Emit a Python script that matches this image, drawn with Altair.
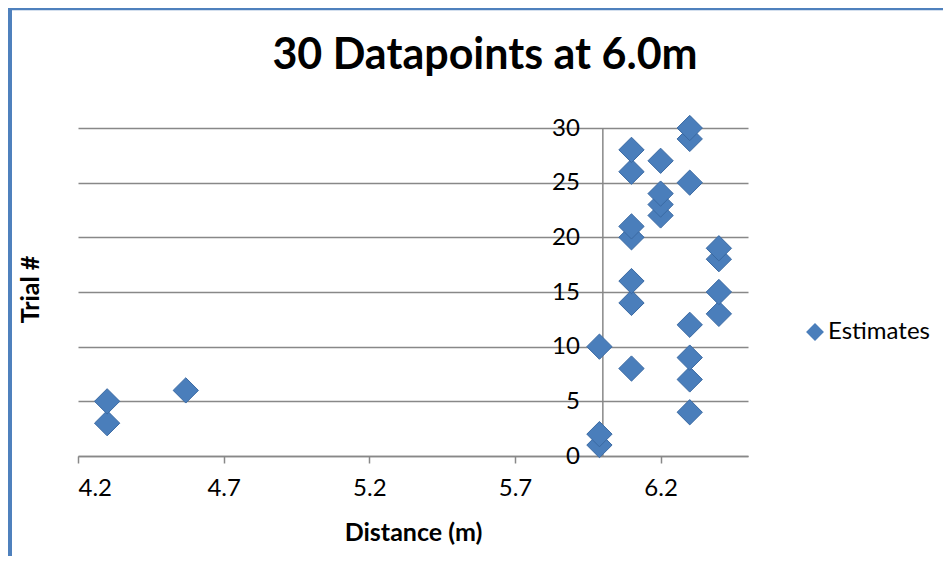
import altair as alt
import pandas as pd

# ---- data ----
trials = [1, 2, 3, 4, 5, 6, 7, 8, 9, 10,
          12, 13, 14, 15, 16, 18, 19, 20, 21, 22,
          23, 24, 25, 26, 27, 28, 29, 30]
distances = [5.99, 5.99, 4.3, 6.3, 4.3, 4.57, 6.3, 6.1, 6.3, 5.99,
             6.3, 6.4, 6.1, 6.4, 6.1, 6.4, 6.4, 6.1, 6.1, 6.2,
             6.2, 6.2, 6.3, 6.1, 6.2, 6.1, 6.3, 6.3]
series_name = "Estimates"
x_ticks = [4.2, 4.7, 5.2, 5.7, 6.2]
y_ticks = [0, 5, 10, 15, 20, 25, 30]
x_domain = [4.2, 6.5]
y_domain = [0, 30]
y_axis_cross = 6.0

df = pd.DataFrame({"Distance": distances, "Trial": trials,
                   "Series": [series_name] * len(trials)})

FONT = "Lato"
GRID = "#888888"
BLUE = "#4a7ebb"
BORDER = "#4f81bd"

W, H = 670, 328
cross_px = (y_axis_cross - x_domain[0]) / (x_domain[1] - x_domain[0]) * W

points = alt.Chart(df).mark_point(
    filled=True, shape="diamond", size=640, opacity=1,
    stroke="#3b6aa3", strokeWidth=1
).encode(
    x=alt.X("Distance:Q",
            scale=alt.Scale(domain=x_domain, nice=False, zero=False),
            axis=alt.Axis(values=x_ticks, format=".1f", title="Distance (m)",
                          grid=False, tickSize=7, tickColor=GRID, tickWidth=1.5,
                          domainColor=GRID, domainWidth=1.5,
                          labelFont=FONT, labelFontSize=24, labelColor="#000000",
                          labelPadding=13,
                          titleFont=FONT, titleFontSize=25, titleFontWeight="bold",
                          titleColor="#000000", titleY=76, titleBaseline="middle")),
    y=alt.Y("Trial:Q",
            scale=alt.Scale(domain=y_domain, nice=False),
            axis=alt.Axis(values=y_ticks, title="Trial #", offset=-cross_px,
                          grid=True, gridColor=GRID, gridWidth=1.5,
                          domainColor=GRID, domainWidth=1.5, ticks=False,
                          labelFont=FONT, labelFontSize=24, labelColor="#000000",
                          labelPadding=23,
                          titleFont=FONT, titleFontSize=25, titleFontWeight="bold",
                          titleColor="#000000", titleAngle=270,
                          titleX=-48 - cross_px, titleY=161,
                          titleAlign="center", titleBaseline="middle")),
    color=alt.Color("Series:N", scale=alt.Scale(range=[BLUE]),
                    legend=alt.Legend(title=None, orient="none",
                                      legendX=725, legendY=192,
                                      symbolType="diamond", symbolSize=320,
                                      symbolStrokeWidth=0, labelOffset=1,
                                      labelFont=FONT, labelFontSize=24,
                                      labelColor="#000000"))
)

frame_df = pd.DataFrame({"k": [0]})
left_border = alt.Chart(frame_df).mark_rule(color=BORDER, strokeWidth=4).encode(
    x=alt.value(-68), y=alt.value(-120), y2=alt.value(440))
top_border = alt.Chart(frame_df).mark_rule(color=BORDER, strokeWidth=2.5).encode(
    x=alt.value(-70), x2=alt.value(865), y=alt.value(-119))

chart = alt.layer(points, left_border, top_border).properties(
    width=W, height=H,
    title=alt.Title("30 Datapoints at 6.0m", font=FONT, fontSize=43,
                    fontWeight="bold", color="#000000", anchor="middle",
                    frame="group", dx=72, offset=-106, baseline="alphabetic"),
    autosize=alt.AutoSizeParams(type="none"),
    padding={"left": 70, "top": 120, "right": 195, "bottom": 100},
).configure_view(stroke=None)

chart.save("out.html", embed_options={"renderer": "svg", "actions": False})
